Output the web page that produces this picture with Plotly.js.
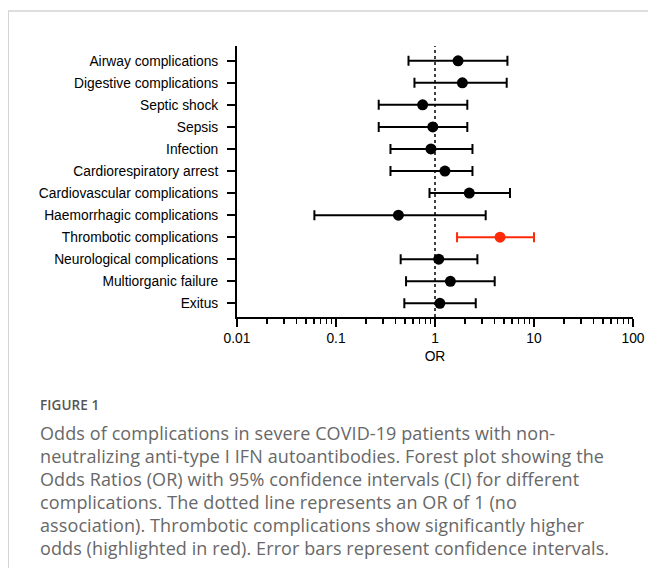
<!DOCTYPE html>
<html>
<head>
<meta charset="utf-8">
<script src="https://cdn.plot.ly/plotly-3.0.1.min.js"></script>
<style>
  html, body { margin: 0; padding: 0; background: #fff; }
  #wrap { position: relative; width: 648px; height: 568px; overflow: hidden; }
  #chart { position: absolute; left: 0; top: 0; width: 648px; height: 568px; }
  #frame { position: absolute; left: 8px; top: 10px; width: 700px; height: 600px;
           border-left: 1.5px solid #d4d4d4; border-top: 2px solid #dedede; pointer-events: none; }
  #figlabel { position: absolute; left: 40px; top: 396px; font-family: "Open Sans", sans-serif;
              font-size: 13.5px; line-height: 18px; font-weight: 600; color: #555; letter-spacing: 0.1px; }
  #caption { position: absolute; left: 40px; top: 422px; font-family: "Open Sans", sans-serif;
             font-size: 18px; line-height: 23px; color: #686868; white-space: nowrap; letter-spacing: 0.1px; }
</style>
</head>
<body>
<div id="wrap">
  <div id="chart"></div>
  <div id="frame"></div>
  <div id="figlabel">FIGURE 1</div>
  <div id="caption">Odds of complications in severe COVID-19 patients with non-<br>neutralizing anti-type I IFN autoantibodies. Forest plot showing the<br>Odds Ratios (OR) with 95% confidence intervals (CI) for different<br>complications. The dotted line represents an OR of 1 (no<br>association). Thrombotic complications show significantly higher<br>odds (highlighted in red). Error bars represent confidence intervals.</div>
</div>
<script>
const categories = [
  "Airway complications", "Digestive complications", "Septic shock", "Sepsis",
  "Infection", "Cardiorespiratory arrest", "Cardiovascular complications",
  "Haemorrhagic complications", "Thrombotic complications", "Neurological complications",
  "Multiorganic failure", "Exitus"
];
const oddsRatio = [1.71, 1.89, 0.75, 0.95, 0.91, 1.26, 2.22, 0.427, 4.54, 1.09, 1.43, 1.12];
const ciLower   = [0.54, 0.62, 0.27, 0.27, 0.355, 0.355, 0.88, 0.0605, 1.67, 0.45, 0.51, 0.49];
const ciUpper   = [5.39, 5.30, 2.12, 2.12, 2.39, 2.39, 5.72, 3.25, 10.0, 2.68, 4.01, 2.58];
const highlighted = "Thrombotic complications";
const xTickLabels = ["0.01", "0.1", "1", "10", "100"];
const xTickValues = [0.01, 0.1, 1, 10, 100];
const refOR = 1;

function subset(keep) {
  const o = { y: [], x: [], plus: [], minus: [] };
  categories.forEach((c, i) => {
    if (keep(c)) {
      o.y.push(c); o.x.push(oddsRatio[i]);
      o.plus.push(ciUpper[i] - oddsRatio[i]);
      o.minus.push(oddsRatio[i] - ciLower[i]);
    }
  });
  return o;
}

function forestTrace(d, color) {
  return {
    type: "scatter", mode: "markers", x: d.x, y: d.y,
    marker: { color: color, size: 11, line: { width: 0 } },
    error_x: { type: "data", symmetric: false, array: d.plus, arrayminus: d.minus,
               color: color, thickness: 2, width: 5 },
    hoverinfo: "x+y", showlegend: false
  };
}

const black = subset(c => c !== highlighted);
const red = subset(c => c === highlighted);

const refLine = {
  type: "scatter", mode: "lines", x: [refOR, refOR], y: [0, 1], yaxis: "y2",
  line: { color: "#000", width: 1.5, dash: "dot" }, hoverinfo: "skip", showlegend: false
};

const layout = {
  width: 648, height: 568,
  margin: { l: 237, r: 15, t: 46, b: 251 },
  paper_bgcolor: "rgba(0,0,0,0)", plot_bgcolor: "rgba(0,0,0,0)",
  font: { family: "Liberation Sans, Arial, sans-serif", size: 13.8, color: "#000" },
  showlegend: false,
  xaxis: {
    type: "log", range: [-2, 2],
    tickvals: xTickValues, ticktext: xTickLabels,
    showgrid: false, zeroline: false,
    showline: true, linecolor: "#000", linewidth: 2,
    ticks: "outside", ticklen: 8, tickwidth: 2, tickcolor: "#000",
    ticklabelstandoff: -1,
    minor: { ticks: "outside", ticklen: 5, tickwidth: 1.5, tickcolor: "#000", dtick: "D1", showgrid: false },
    title: { text: "OR", standoff: 7, font: { size: 13.8 } },
    fixedrange: true
  },
  yaxis: {
    type: "category", categoryorder: "array", categoryarray: categories.slice().reverse(),
    range: [-0.62, 11.67],
    showgrid: false, zeroline: false,
    showline: true, linecolor: "#000", linewidth: 2,
    ticks: "outside", ticklen: 8, tickwidth: 2, tickcolor: "#000",
    ticklabelstandoff: 6,
    fixedrange: true
  },
  yaxis2: { overlaying: "y", range: [0, 1], visible: false, fixedrange: true }
};

Plotly.newPlot("chart", [refLine, forestTrace(black, "#000"), forestTrace(red, "#ff2a0a")], layout,
  { displayModeBar: false, staticPlot: true });
</script>
</body>
</html>
